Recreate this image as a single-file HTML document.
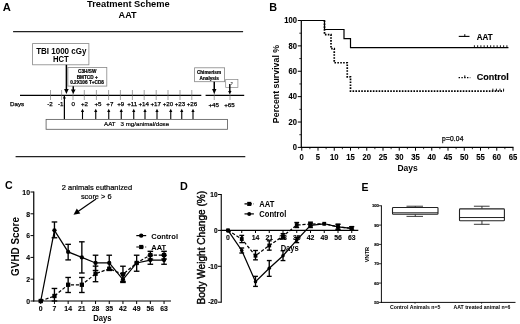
<!DOCTYPE html>
<html><head><meta charset="utf-8"><title>Figure</title>
<style>
html,body{margin:0;padding:0;background:#fff;}
svg{display:block;filter:blur(0.3px);font-family:'Liberation Sans', sans-serif;}
</style></head><body>
<svg width="520" height="324" viewBox="0 0 520 324" font-family="'Liberation Sans', sans-serif">
<rect x="0" y="0" width="520" height="324" fill="#fff"/>
<text x="2.70" y="11.20" font-size="11.2" font-weight="bold" text-anchor="start" fill="#000" >A</text>
<text x="128.40" y="7.30" font-size="9.3" font-weight="bold" text-anchor="middle" fill="#000" >Treatment Scheme</text>
<text x="127.60" y="18.30" font-size="9.1" font-weight="bold" text-anchor="middle" fill="#000" >AAT</text>
<line x1="13.10" y1="31.60" x2="243.10" y2="31.60" stroke="#222" stroke-width="1.25" />
<line x1="15.60" y1="156.60" x2="245.30" y2="156.60" stroke="#222" stroke-width="1.4" />
<rect x="32.60" y="43.60" width="56.30" height="21.20" fill="none" stroke="#858585" stroke-width="0.8"/>
<text x="61.30" y="53.60" font-size="9.1" font-weight="bold" text-anchor="middle" fill="#000" textLength="50.2" lengthAdjust="spacingAndGlyphs">TBI 1000 cGy</text>
<text x="60.80" y="62.40" font-size="8.8" font-weight="bold" text-anchor="middle" fill="#000" textLength="15.8" lengthAdjust="spacingAndGlyphs">HCT</text>
<rect x="67.90" y="67.50" width="38.90" height="18.60" fill="#fff" stroke="#888" stroke-width="0.8"/>
<text x="87.20" y="73.40" font-size="4.7" font-weight="bold" text-anchor="middle" fill="#000"  stroke="#000" stroke-width="0.2">C3H/SW</text>
<text x="87.20" y="78.80" font-size="4.7" font-weight="bold" text-anchor="middle" fill="#000"  stroke="#000" stroke-width="0.2">BMTCD +</text>
<text x="87.00" y="84.20" font-size="4.7" font-weight="bold" text-anchor="middle" fill="#000"  stroke="#000" stroke-width="0.2">0.2X106 T+CD8</text>
<line x1="20.00" y1="95.30" x2="201.30" y2="95.30" stroke="#000" stroke-width="1.35" />
<line x1="205.60" y1="95.30" x2="244.20" y2="95.30" stroke="#000" stroke-width="1.35" />
<line x1="50.50" y1="90.00" x2="50.50" y2="100.00" stroke="#666" stroke-width="0.6" />
<text x="50.00" y="106.10" font-size="6.2" font-weight="normal" text-anchor="middle" fill="#000"  stroke="#000" stroke-width="0.25">-2</text>
<line x1="61.60" y1="90.00" x2="61.60" y2="100.00" stroke="#666" stroke-width="0.6" />
<text x="60.75" y="106.10" font-size="6.2" font-weight="normal" text-anchor="middle" fill="#000"  stroke="#000" stroke-width="0.25">-1</text>
<line x1="73.00" y1="90.00" x2="73.00" y2="100.00" stroke="#666" stroke-width="0.6" />
<text x="73.25" y="106.10" font-size="6.2" font-weight="normal" text-anchor="middle" fill="#000"  stroke="#000" stroke-width="0.25">0</text>
<line x1="84.30" y1="90.00" x2="84.30" y2="100.00" stroke="#666" stroke-width="0.6" />
<text x="84.50" y="106.10" font-size="6.2" font-weight="normal" text-anchor="middle" fill="#000"  stroke="#000" stroke-width="0.25">+2</text>
<line x1="96.40" y1="90.00" x2="96.40" y2="100.00" stroke="#666" stroke-width="0.6" />
<text x="98.00" y="106.10" font-size="6.2" font-weight="normal" text-anchor="middle" fill="#000"  stroke="#000" stroke-width="0.25">+5</text>
<line x1="108.60" y1="90.00" x2="108.60" y2="100.00" stroke="#666" stroke-width="0.6" />
<text x="109.80" y="106.10" font-size="6.2" font-weight="normal" text-anchor="middle" fill="#000"  stroke="#000" stroke-width="0.25">+7</text>
<line x1="120.40" y1="90.00" x2="120.40" y2="100.00" stroke="#666" stroke-width="0.6" />
<text x="120.75" y="106.10" font-size="6.2" font-weight="normal" text-anchor="middle" fill="#000"  stroke="#000" stroke-width="0.25">+9</text>
<line x1="132.40" y1="90.00" x2="132.40" y2="100.00" stroke="#666" stroke-width="0.6" />
<text x="132.20" y="106.10" font-size="6.2" font-weight="normal" text-anchor="middle" fill="#000"  stroke="#000" stroke-width="0.25">+11</text>
<line x1="144.20" y1="90.00" x2="144.20" y2="100.00" stroke="#666" stroke-width="0.6" />
<text x="143.75" y="106.10" font-size="6.2" font-weight="normal" text-anchor="middle" fill="#000"  stroke="#000" stroke-width="0.25">+14</text>
<line x1="156.20" y1="90.00" x2="156.20" y2="100.00" stroke="#666" stroke-width="0.6" />
<text x="155.75" y="106.10" font-size="6.2" font-weight="normal" text-anchor="middle" fill="#000"  stroke="#000" stroke-width="0.25">+17</text>
<line x1="168.00" y1="90.00" x2="168.00" y2="100.00" stroke="#666" stroke-width="0.6" />
<text x="168.00" y="106.10" font-size="6.2" font-weight="normal" text-anchor="middle" fill="#000"  stroke="#000" stroke-width="0.25">+20</text>
<line x1="180.00" y1="90.00" x2="180.00" y2="100.00" stroke="#666" stroke-width="0.6" />
<text x="180.00" y="106.10" font-size="6.2" font-weight="normal" text-anchor="middle" fill="#000"  stroke="#000" stroke-width="0.25">+23</text>
<line x1="191.80" y1="90.00" x2="191.80" y2="100.00" stroke="#666" stroke-width="0.6" />
<text x="192.00" y="106.10" font-size="6.2" font-weight="normal" text-anchor="middle" fill="#000"  stroke="#000" stroke-width="0.25">+26</text>
<line x1="214.25" y1="90.00" x2="214.25" y2="100.00" stroke="#666" stroke-width="0.6" />
<text x="213.75" y="107.10" font-size="6.2" font-weight="normal" text-anchor="middle" fill="#000"  stroke="#000" stroke-width="0.25">+45</text>
<line x1="230.00" y1="90.00" x2="230.00" y2="100.00" stroke="#666" stroke-width="0.6" />
<text x="229.50" y="107.10" font-size="6.2" font-weight="normal" text-anchor="middle" fill="#000"  stroke="#000" stroke-width="0.25">+65</text>
<text x="10.00" y="106.20" font-size="6.2" font-weight="normal" text-anchor="start" fill="#000"  stroke="#000" stroke-width="0.25">Days</text>
<line x1="66.40" y1="64.80" x2="66.40" y2="90.00" stroke="#000" stroke-width="1.5" />
<polygon points="64.10,89.00 68.70,89.00 66.40,94.00" fill="#000"/>
<line x1="73.25" y1="86.25" x2="73.25" y2="90.50" stroke="#000" stroke-width="1.5" />
<polygon points="70.95,89.50 75.55,89.50 73.25,94.00" fill="#000"/>
<line x1="64.40" y1="95.00" x2="64.40" y2="119.40" stroke="#000" stroke-width="1.25" />
<polygon points="64.40,95.60 62.90,98.60 65.90,98.60" fill="#000"/>
<line x1="82.50" y1="119.40" x2="82.50" y2="111.10" stroke="#000" stroke-width="1.1" />
<polygon points="80.90,112.10 84.10,112.10 82.50,108.70" fill="#000"/>
<line x1="95.75" y1="119.40" x2="95.75" y2="111.10" stroke="#000" stroke-width="1.1" />
<polygon points="94.15,112.10 97.35,112.10 95.75,108.70" fill="#000"/>
<line x1="108.75" y1="119.40" x2="108.75" y2="111.10" stroke="#000" stroke-width="1.1" />
<polygon points="107.15,112.10 110.35,112.10 108.75,108.70" fill="#000"/>
<line x1="121.25" y1="119.40" x2="121.25" y2="111.10" stroke="#000" stroke-width="1.1" />
<polygon points="119.65,112.10 122.85,112.10 121.25,108.70" fill="#000"/>
<line x1="133.75" y1="119.40" x2="133.75" y2="111.10" stroke="#000" stroke-width="1.1" />
<polygon points="132.15,112.10 135.35,112.10 133.75,108.70" fill="#000"/>
<line x1="145.00" y1="119.40" x2="145.00" y2="111.10" stroke="#000" stroke-width="1.1" />
<polygon points="143.40,112.10 146.60,112.10 145.00,108.70" fill="#000"/>
<line x1="157.00" y1="119.40" x2="157.00" y2="111.10" stroke="#000" stroke-width="1.1" />
<polygon points="155.40,112.10 158.60,112.10 157.00,108.70" fill="#000"/>
<line x1="170.75" y1="119.40" x2="170.75" y2="111.10" stroke="#000" stroke-width="1.1" />
<polygon points="169.15,112.10 172.35,112.10 170.75,108.70" fill="#000"/>
<line x1="181.75" y1="119.40" x2="181.75" y2="111.10" stroke="#000" stroke-width="1.1" />
<polygon points="180.15,112.10 183.35,112.10 181.75,108.70" fill="#000"/>
<line x1="193.00" y1="119.40" x2="193.00" y2="111.10" stroke="#000" stroke-width="1.1" />
<polygon points="191.40,112.10 194.60,112.10 193.00,108.70" fill="#000"/>
<rect x="46.10" y="119.40" width="181.40" height="9.90" fill="#fff" stroke="#606060" stroke-width="0.85"/>
<text x="136.60" y="126.40" font-size="6.15" font-weight="normal" text-anchor="middle" fill="#000" xml:space="preserve" stroke="#000" stroke-width="0.2">AAT   3 mg/animal/dose</text>
<rect x="194.60" y="67.80" width="30.00" height="13.90" fill="#fff" stroke="#858585" stroke-width="0.8"/>
<text x="209.00" y="74.20" font-size="4.7" font-weight="bold" text-anchor="middle" fill="#000"  stroke="#000" stroke-width="0.2">Chimerism</text>
<text x="209.20" y="79.70" font-size="4.7" font-weight="bold" text-anchor="middle" fill="#000"  stroke="#000" stroke-width="0.2">Analysis</text>
<line x1="214.25" y1="81.70" x2="214.25" y2="90.00" stroke="#000" stroke-width="1.5" />
<polygon points="212.05,89.00 216.45,89.00 214.25,94.00" fill="#000"/>
<rect x="225.70" y="79.50" width="12.20" height="8.10" fill="#fff" stroke="#858585" stroke-width="0.7"/>
<text x="231.70" y="85.00" font-size="3.8" font-weight="bold" text-anchor="middle" fill="#000" >?</text>
<line x1="229.80" y1="84.00" x2="229.80" y2="91.90" stroke="#000" stroke-width="1.4" />
<polygon points="228.10,90.90 231.50,90.90 229.80,94.30" fill="#000"/>
<text x="269.30" y="10.70" font-size="10.8" font-weight="bold" text-anchor="start" fill="#000" >B</text>
<line x1="301.30" y1="20.00" x2="301.30" y2="147.90" stroke="#000" stroke-width="1.2" />
<line x1="300.80" y1="147.40" x2="513.50" y2="147.40" stroke="#000" stroke-width="1.2" />
<line x1="297.80" y1="147.40" x2="301.30" y2="147.40" stroke="#000" stroke-width="1" />
<text x="0" y="0" font-size="8.26" font-weight="bold" text-anchor="end" fill="#000" transform="translate(297.00 150.10) scale(0.92 1)"  stroke="#000" stroke-width="0.1">0</text>
<line x1="299.30" y1="134.71" x2="301.30" y2="134.71" stroke="#000" stroke-width="0.8" />
<line x1="297.80" y1="122.02" x2="301.30" y2="122.02" stroke="#000" stroke-width="1" />
<text x="0" y="0" font-size="8.26" font-weight="bold" text-anchor="end" fill="#000" transform="translate(297.00 124.72) scale(0.92 1)"  stroke="#000" stroke-width="0.1">20</text>
<line x1="299.30" y1="109.33" x2="301.30" y2="109.33" stroke="#000" stroke-width="0.8" />
<line x1="297.80" y1="96.64" x2="301.30" y2="96.64" stroke="#000" stroke-width="1" />
<text x="0" y="0" font-size="8.26" font-weight="bold" text-anchor="end" fill="#000" transform="translate(297.00 99.34) scale(0.92 1)"  stroke="#000" stroke-width="0.1">40</text>
<line x1="299.30" y1="83.95" x2="301.30" y2="83.95" stroke="#000" stroke-width="0.8" />
<line x1="297.80" y1="71.26" x2="301.30" y2="71.26" stroke="#000" stroke-width="1" />
<text x="0" y="0" font-size="8.26" font-weight="bold" text-anchor="end" fill="#000" transform="translate(297.00 73.96) scale(0.92 1)"  stroke="#000" stroke-width="0.1">60</text>
<line x1="299.30" y1="58.57" x2="301.30" y2="58.57" stroke="#000" stroke-width="0.8" />
<line x1="297.80" y1="45.88" x2="301.30" y2="45.88" stroke="#000" stroke-width="1" />
<text x="0" y="0" font-size="8.26" font-weight="bold" text-anchor="end" fill="#000" transform="translate(297.00 48.58) scale(0.92 1)"  stroke="#000" stroke-width="0.1">80</text>
<line x1="299.30" y1="33.19" x2="301.30" y2="33.19" stroke="#000" stroke-width="0.8" />
<line x1="297.80" y1="20.50" x2="301.30" y2="20.50" stroke="#000" stroke-width="1" />
<text x="0" y="0" font-size="8.26" font-weight="bold" text-anchor="end" fill="#000" transform="translate(297.00 23.20) scale(0.92 1)"  stroke="#000" stroke-width="0.1">100</text>
<line x1="301.75" y1="147.40" x2="301.75" y2="150.70" stroke="#000" stroke-width="1" />
<text x="0" y="0" font-size="8.37" font-weight="bold" text-anchor="middle" fill="#000" transform="translate(301.75 159.50) scale(0.92 1)"  stroke="#000" stroke-width="0.1">0</text>
<line x1="318.00" y1="147.40" x2="318.00" y2="150.70" stroke="#000" stroke-width="1" />
<text x="0" y="0" font-size="8.37" font-weight="bold" text-anchor="middle" fill="#000" transform="translate(318.00 159.50) scale(0.92 1)"  stroke="#000" stroke-width="0.1">5</text>
<line x1="334.25" y1="147.40" x2="334.25" y2="150.70" stroke="#000" stroke-width="1" />
<text x="0" y="0" font-size="8.37" font-weight="bold" text-anchor="middle" fill="#000" transform="translate(334.25 159.50) scale(0.92 1)"  stroke="#000" stroke-width="0.1">10</text>
<line x1="350.50" y1="147.40" x2="350.50" y2="150.70" stroke="#000" stroke-width="1" />
<text x="0" y="0" font-size="8.37" font-weight="bold" text-anchor="middle" fill="#000" transform="translate(350.50 159.50) scale(0.92 1)"  stroke="#000" stroke-width="0.1">15</text>
<line x1="366.75" y1="147.40" x2="366.75" y2="150.70" stroke="#000" stroke-width="1" />
<text x="0" y="0" font-size="8.37" font-weight="bold" text-anchor="middle" fill="#000" transform="translate(366.75 159.50) scale(0.92 1)"  stroke="#000" stroke-width="0.1">20</text>
<line x1="383.00" y1="147.40" x2="383.00" y2="150.70" stroke="#000" stroke-width="1" />
<text x="0" y="0" font-size="8.37" font-weight="bold" text-anchor="middle" fill="#000" transform="translate(383.00 159.50) scale(0.92 1)"  stroke="#000" stroke-width="0.1">25</text>
<line x1="399.25" y1="147.40" x2="399.25" y2="150.70" stroke="#000" stroke-width="1" />
<text x="0" y="0" font-size="8.37" font-weight="bold" text-anchor="middle" fill="#000" transform="translate(399.25 159.50) scale(0.92 1)"  stroke="#000" stroke-width="0.1">30</text>
<line x1="415.50" y1="147.40" x2="415.50" y2="150.70" stroke="#000" stroke-width="1" />
<text x="0" y="0" font-size="8.37" font-weight="bold" text-anchor="middle" fill="#000" transform="translate(415.50 159.50) scale(0.92 1)"  stroke="#000" stroke-width="0.1">35</text>
<line x1="431.75" y1="147.40" x2="431.75" y2="150.70" stroke="#000" stroke-width="1" />
<text x="0" y="0" font-size="8.37" font-weight="bold" text-anchor="middle" fill="#000" transform="translate(431.75 159.50) scale(0.92 1)"  stroke="#000" stroke-width="0.1">40</text>
<line x1="448.00" y1="147.40" x2="448.00" y2="150.70" stroke="#000" stroke-width="1" />
<text x="0" y="0" font-size="8.37" font-weight="bold" text-anchor="middle" fill="#000" transform="translate(448.00 159.50) scale(0.92 1)"  stroke="#000" stroke-width="0.1">45</text>
<line x1="464.25" y1="147.40" x2="464.25" y2="150.70" stroke="#000" stroke-width="1" />
<text x="0" y="0" font-size="8.37" font-weight="bold" text-anchor="middle" fill="#000" transform="translate(464.25 159.50) scale(0.92 1)"  stroke="#000" stroke-width="0.1">50</text>
<line x1="480.50" y1="147.40" x2="480.50" y2="150.70" stroke="#000" stroke-width="1" />
<text x="0" y="0" font-size="8.37" font-weight="bold" text-anchor="middle" fill="#000" transform="translate(480.50 159.50) scale(0.92 1)"  stroke="#000" stroke-width="0.1">55</text>
<line x1="496.75" y1="147.40" x2="496.75" y2="150.70" stroke="#000" stroke-width="1" />
<text x="0" y="0" font-size="8.37" font-weight="bold" text-anchor="middle" fill="#000" transform="translate(496.75 159.50) scale(0.92 1)"  stroke="#000" stroke-width="0.1">60</text>
<line x1="513.00" y1="147.40" x2="513.00" y2="150.70" stroke="#000" stroke-width="1" />
<text x="0" y="0" font-size="8.37" font-weight="bold" text-anchor="middle" fill="#000" transform="translate(513.00 159.50) scale(0.92 1)"  stroke="#000" stroke-width="0.1">65</text>
<line x1="309.88" y1="147.40" x2="309.88" y2="149.20" stroke="#000" stroke-width="0.8" />
<line x1="326.12" y1="147.40" x2="326.12" y2="149.20" stroke="#000" stroke-width="0.8" />
<line x1="342.38" y1="147.40" x2="342.38" y2="149.20" stroke="#000" stroke-width="0.8" />
<line x1="358.62" y1="147.40" x2="358.62" y2="149.20" stroke="#000" stroke-width="0.8" />
<line x1="374.88" y1="147.40" x2="374.88" y2="149.20" stroke="#000" stroke-width="0.8" />
<line x1="391.12" y1="147.40" x2="391.12" y2="149.20" stroke="#000" stroke-width="0.8" />
<line x1="407.38" y1="147.40" x2="407.38" y2="149.20" stroke="#000" stroke-width="0.8" />
<line x1="423.62" y1="147.40" x2="423.62" y2="149.20" stroke="#000" stroke-width="0.8" />
<line x1="439.88" y1="147.40" x2="439.88" y2="149.20" stroke="#000" stroke-width="0.8" />
<line x1="456.12" y1="147.40" x2="456.12" y2="149.20" stroke="#000" stroke-width="0.8" />
<line x1="472.38" y1="147.40" x2="472.38" y2="149.20" stroke="#000" stroke-width="0.8" />
<line x1="488.62" y1="147.40" x2="488.62" y2="149.20" stroke="#000" stroke-width="0.8" />
<line x1="504.88" y1="147.40" x2="504.88" y2="149.20" stroke="#000" stroke-width="0.8" />
<text x="0" y="0" font-size="9.34" font-weight="bold" text-anchor="middle" fill="#000" transform="translate(407.60 171.20) scale(0.91 1)" >Days</text>
<text x="279.30" y="84.00" font-size="8.8" font-weight="bold" text-anchor="middle" fill="#000" transform="rotate(-90 279.30 84.00)" >Percent survival %</text>
<polyline fill="none" stroke="#000" stroke-width="1.2" points="301.75,20.50 324.50,20.50 324.50,29.51 344.00,29.51 344.00,38.65 350.50,38.65 350.50,47.66 508.45,47.66"/>
<line x1="474.40" y1="47.66" x2="474.40" y2="45.26" stroke="#000" stroke-width="0.9" />
<line x1="477.65" y1="47.66" x2="477.65" y2="45.26" stroke="#000" stroke-width="0.9" />
<line x1="480.90" y1="47.66" x2="480.90" y2="45.26" stroke="#000" stroke-width="0.9" />
<line x1="484.15" y1="47.66" x2="484.15" y2="45.26" stroke="#000" stroke-width="0.9" />
<line x1="487.40" y1="47.66" x2="487.40" y2="45.26" stroke="#000" stroke-width="0.9" />
<line x1="490.65" y1="47.66" x2="490.65" y2="45.26" stroke="#000" stroke-width="0.9" />
<line x1="493.90" y1="47.66" x2="493.90" y2="45.26" stroke="#000" stroke-width="0.9" />
<line x1="497.15" y1="47.66" x2="497.15" y2="45.26" stroke="#000" stroke-width="0.9" />
<line x1="500.40" y1="47.66" x2="500.40" y2="45.26" stroke="#000" stroke-width="0.9" />
<line x1="503.65" y1="47.66" x2="503.65" y2="45.26" stroke="#000" stroke-width="0.9" />
<line x1="506.90" y1="47.66" x2="506.90" y2="45.26" stroke="#000" stroke-width="0.9" />
<polyline fill="none" stroke="#000" stroke-width="1.7" stroke-dasharray="1.6 1.3" points="324.50,20.50 324.50,34.59 331.00,34.59 331.00,48.67 334.25,48.67 334.25,62.76 347.25,62.76 347.25,76.84 350.50,76.84 350.50,91.06 503.90,91.06"/>
<line x1="492.85" y1="91.06" x2="492.85" y2="88.66" stroke="#000" stroke-width="0.9" />
<line x1="496.42" y1="91.06" x2="496.42" y2="88.66" stroke="#000" stroke-width="0.9" />
<line x1="500.00" y1="91.06" x2="500.00" y2="88.66" stroke="#000" stroke-width="0.9" />
<line x1="503.58" y1="91.06" x2="503.58" y2="88.66" stroke="#000" stroke-width="0.9" />
<line x1="458.75" y1="36.40" x2="469.50" y2="36.40" stroke="#000" stroke-width="1.1" />
<line x1="464.80" y1="36.40" x2="464.80" y2="34.20" stroke="#000" stroke-width="1" />
<text x="476.75" y="39.90" font-size="9.2" font-weight="bold" text-anchor="start" fill="#000" textLength="15.9" lengthAdjust="spacingAndGlyphs" stroke="#000" stroke-width="0.15">AAT</text>
<line x1="458.60" y1="77.70" x2="470.30" y2="77.70" stroke="#000" stroke-width="1.2" stroke-dasharray="1.4 1.4"/>
<line x1="464.80" y1="77.70" x2="464.80" y2="75.40" stroke="#000" stroke-width="1" />
<text x="476.75" y="80.20" font-size="9.3" font-weight="bold" text-anchor="start" fill="#000" textLength="32" lengthAdjust="spacingAndGlyphs" stroke="#000" stroke-width="0.15">Control</text>
<text x="452.80" y="141.20" font-size="6.7" font-weight="normal" text-anchor="middle" fill="#000" letter-spacing="0.15" stroke="#000" stroke-width="0.25">p=0.04</text>
<text x="4.90" y="189.20" font-size="10.6" font-weight="bold" text-anchor="start" fill="#000" >C</text>
<line x1="33.75" y1="191.50" x2="33.75" y2="301.50" stroke="#000" stroke-width="1.2" />
<line x1="33.25" y1="301.00" x2="171.00" y2="301.00" stroke="#000" stroke-width="1.2" />
<line x1="30.50" y1="301.00" x2="33.75" y2="301.00" stroke="#000" stroke-width="1" />
<text x="0" y="0" font-size="7.5" font-weight="bold" text-anchor="end" fill="#000" transform="translate(30.00 303.70) scale(0.92 1)"  stroke="#000" stroke-width="0.1">0</text>
<line x1="30.50" y1="279.20" x2="33.75" y2="279.20" stroke="#000" stroke-width="1" />
<text x="0" y="0" font-size="7.5" font-weight="bold" text-anchor="end" fill="#000" transform="translate(30.00 281.90) scale(0.92 1)"  stroke="#000" stroke-width="0.1">2</text>
<line x1="30.50" y1="257.40" x2="33.75" y2="257.40" stroke="#000" stroke-width="1" />
<text x="0" y="0" font-size="7.5" font-weight="bold" text-anchor="end" fill="#000" transform="translate(30.00 260.10) scale(0.92 1)"  stroke="#000" stroke-width="0.1">4</text>
<line x1="30.50" y1="235.60" x2="33.75" y2="235.60" stroke="#000" stroke-width="1" />
<text x="0" y="0" font-size="7.5" font-weight="bold" text-anchor="end" fill="#000" transform="translate(30.00 238.30) scale(0.92 1)"  stroke="#000" stroke-width="0.1">6</text>
<line x1="30.50" y1="213.80" x2="33.75" y2="213.80" stroke="#000" stroke-width="1" />
<text x="0" y="0" font-size="7.5" font-weight="bold" text-anchor="end" fill="#000" transform="translate(30.00 216.50) scale(0.92 1)"  stroke="#000" stroke-width="0.1">8</text>
<line x1="30.50" y1="192.00" x2="33.75" y2="192.00" stroke="#000" stroke-width="1" />
<text x="0" y="0" font-size="7.5" font-weight="bold" text-anchor="end" fill="#000" transform="translate(30.00 194.70) scale(0.92 1)"  stroke="#000" stroke-width="0.1">10</text>
<line x1="40.75" y1="301.00" x2="40.75" y2="304.00" stroke="#000" stroke-width="1" />
<text x="0" y="0" font-size="7.5" font-weight="bold" text-anchor="middle" fill="#000" transform="translate(40.75 311.00) scale(0.92 1)"  stroke="#000" stroke-width="0.1">0</text>
<line x1="54.45" y1="301.00" x2="54.45" y2="304.00" stroke="#000" stroke-width="1" />
<text x="0" y="0" font-size="7.5" font-weight="bold" text-anchor="middle" fill="#000" transform="translate(54.45 311.00) scale(0.92 1)"  stroke="#000" stroke-width="0.1">7</text>
<line x1="68.15" y1="301.00" x2="68.15" y2="304.00" stroke="#000" stroke-width="1" />
<text x="0" y="0" font-size="7.5" font-weight="bold" text-anchor="middle" fill="#000" transform="translate(68.15 311.00) scale(0.92 1)"  stroke="#000" stroke-width="0.1">14</text>
<line x1="81.85" y1="301.00" x2="81.85" y2="304.00" stroke="#000" stroke-width="1" />
<text x="0" y="0" font-size="7.5" font-weight="bold" text-anchor="middle" fill="#000" transform="translate(81.85 311.00) scale(0.92 1)"  stroke="#000" stroke-width="0.1">21</text>
<line x1="95.55" y1="301.00" x2="95.55" y2="304.00" stroke="#000" stroke-width="1" />
<text x="0" y="0" font-size="7.5" font-weight="bold" text-anchor="middle" fill="#000" transform="translate(95.55 311.00) scale(0.92 1)"  stroke="#000" stroke-width="0.1">28</text>
<line x1="109.25" y1="301.00" x2="109.25" y2="304.00" stroke="#000" stroke-width="1" />
<text x="0" y="0" font-size="7.5" font-weight="bold" text-anchor="middle" fill="#000" transform="translate(109.25 311.00) scale(0.92 1)"  stroke="#000" stroke-width="0.1">35</text>
<line x1="122.95" y1="301.00" x2="122.95" y2="304.00" stroke="#000" stroke-width="1" />
<text x="0" y="0" font-size="7.5" font-weight="bold" text-anchor="middle" fill="#000" transform="translate(122.95 311.00) scale(0.92 1)"  stroke="#000" stroke-width="0.1">42</text>
<line x1="136.65" y1="301.00" x2="136.65" y2="304.00" stroke="#000" stroke-width="1" />
<text x="0" y="0" font-size="7.5" font-weight="bold" text-anchor="middle" fill="#000" transform="translate(136.65 311.00) scale(0.92 1)"  stroke="#000" stroke-width="0.1">49</text>
<line x1="150.35" y1="301.00" x2="150.35" y2="304.00" stroke="#000" stroke-width="1" />
<text x="0" y="0" font-size="7.5" font-weight="bold" text-anchor="middle" fill="#000" transform="translate(150.35 311.00) scale(0.92 1)"  stroke="#000" stroke-width="0.1">56</text>
<line x1="164.05" y1="301.00" x2="164.05" y2="304.00" stroke="#000" stroke-width="1" />
<text x="0" y="0" font-size="7.5" font-weight="bold" text-anchor="middle" fill="#000" transform="translate(164.05 311.00) scale(0.92 1)"  stroke="#000" stroke-width="0.1">63</text>
<text x="0" y="0" font-size="8.26" font-weight="bold" text-anchor="middle" fill="#000" transform="translate(102.30 321.00) scale(0.92 1)" >Days</text>
<text x="18.90" y="246.50" font-size="10.3" font-weight="bold" text-anchor="middle" fill="#000" transform="rotate(-90 18.90 246.50)" textLength="58.8" lengthAdjust="spacingAndGlyphs">GVHD Score</text>
<text x="97.00" y="190.40" font-size="7.45" font-weight="normal" text-anchor="middle" fill="#000"  stroke="#000" stroke-width="0.2">2 animals euthanized</text>
<text x="96.20" y="198.80" font-size="7.4" font-weight="normal" text-anchor="middle" fill="#000"  stroke="#000" stroke-width="0.2">score &gt; 6</text>
<line x1="96.00" y1="198.90" x2="76.50" y2="212.50" stroke="#000" stroke-width="1.2" />
<polygon points="73.50,214.70 80.30,213.40 76.80,208.40" fill="#000"/>
<polyline fill="none" stroke="#000" stroke-width="1.25" points="40.75,301.00 54.45,230.37 68.15,251.95 81.85,257.40 95.55,262.96 109.25,262.96 122.95,279.53 136.65,262.96 150.35,260.02 164.05,260.02"/>
<circle cx="40.75" cy="301.00" r="2.15" fill="#000"/>
<line x1="54.45" y1="237.78" x2="54.45" y2="221.97" stroke="#000" stroke-width="1.35" />
<line x1="51.65" y1="237.78" x2="57.25" y2="237.78" stroke="#000" stroke-width="1.35" />
<line x1="51.65" y1="221.97" x2="57.25" y2="221.97" stroke="#000" stroke-width="1.35" />
<circle cx="54.45" cy="230.37" r="2.15" fill="#000"/>
<line x1="68.15" y1="259.91" x2="68.15" y2="244.32" stroke="#000" stroke-width="1.35" />
<line x1="65.35" y1="259.91" x2="70.95" y2="259.91" stroke="#000" stroke-width="1.35" />
<line x1="65.35" y1="244.32" x2="70.95" y2="244.32" stroke="#000" stroke-width="1.35" />
<circle cx="68.15" cy="251.95" r="2.15" fill="#000"/>
<line x1="81.85" y1="272.99" x2="81.85" y2="241.81" stroke="#000" stroke-width="1.35" />
<line x1="79.05" y1="272.99" x2="84.65" y2="272.99" stroke="#000" stroke-width="1.35" />
<line x1="79.05" y1="241.81" x2="84.65" y2="241.81" stroke="#000" stroke-width="1.35" />
<circle cx="81.85" cy="257.40" r="2.15" fill="#000"/>
<line x1="95.55" y1="270.48" x2="95.55" y2="255.22" stroke="#000" stroke-width="1.35" />
<line x1="92.75" y1="270.48" x2="98.35" y2="270.48" stroke="#000" stroke-width="1.35" />
<line x1="92.75" y1="255.22" x2="98.35" y2="255.22" stroke="#000" stroke-width="1.35" />
<circle cx="95.55" cy="262.96" r="2.15" fill="#000"/>
<line x1="109.25" y1="270.48" x2="109.25" y2="255.22" stroke="#000" stroke-width="1.35" />
<line x1="106.45" y1="270.48" x2="112.05" y2="270.48" stroke="#000" stroke-width="1.35" />
<line x1="106.45" y1="255.22" x2="112.05" y2="255.22" stroke="#000" stroke-width="1.35" />
<circle cx="109.25" cy="262.96" r="2.15" fill="#000"/>
<line x1="122.95" y1="282.47" x2="122.95" y2="273.75" stroke="#000" stroke-width="1.35" />
<line x1="120.15" y1="282.47" x2="125.75" y2="282.47" stroke="#000" stroke-width="1.35" />
<line x1="120.15" y1="273.75" x2="125.75" y2="273.75" stroke="#000" stroke-width="1.35" />
<circle cx="122.95" cy="279.53" r="2.15" fill="#000"/>
<line x1="136.65" y1="271.24" x2="136.65" y2="255.22" stroke="#000" stroke-width="1.35" />
<line x1="133.85" y1="271.24" x2="139.45" y2="271.24" stroke="#000" stroke-width="1.35" />
<line x1="133.85" y1="255.22" x2="139.45" y2="255.22" stroke="#000" stroke-width="1.35" />
<circle cx="136.65" cy="262.96" r="2.15" fill="#000"/>
<line x1="150.35" y1="264.27" x2="150.35" y2="255.22" stroke="#000" stroke-width="1.35" />
<line x1="147.55" y1="264.27" x2="153.15" y2="264.27" stroke="#000" stroke-width="1.35" />
<line x1="147.55" y1="255.22" x2="153.15" y2="255.22" stroke="#000" stroke-width="1.35" />
<circle cx="150.35" cy="260.02" r="2.15" fill="#000"/>
<line x1="164.05" y1="264.27" x2="164.05" y2="255.22" stroke="#000" stroke-width="1.35" />
<line x1="161.25" y1="264.27" x2="166.85" y2="264.27" stroke="#000" stroke-width="1.35" />
<line x1="161.25" y1="255.22" x2="166.85" y2="255.22" stroke="#000" stroke-width="1.35" />
<circle cx="164.05" cy="260.02" r="2.15" fill="#000"/>
<polyline fill="none" stroke="#000" stroke-width="1.25" points="40.75,301.00 54.45,295.99 68.15,284.76 81.85,284.76 95.55,273.75 109.25,268.74 122.95,274.30 136.65,262.96 150.35,255.00 164.05,255.00" stroke-dasharray="3.2 1.8"/>
<rect x="38.60" y="298.85" width="4.3" height="4.3" fill="#000"/>
<line x1="54.45" y1="301.00" x2="54.45" y2="288.46" stroke="#000" stroke-width="1.35" />
<line x1="51.65" y1="301.00" x2="57.25" y2="301.00" stroke="#000" stroke-width="1.35" />
<line x1="51.65" y1="288.46" x2="57.25" y2="288.46" stroke="#000" stroke-width="1.35" />
<rect x="52.30" y="293.84" width="4.3" height="4.3" fill="#000"/>
<line x1="68.15" y1="292.50" x2="68.15" y2="277.46" stroke="#000" stroke-width="1.35" />
<line x1="65.35" y1="292.50" x2="70.95" y2="292.50" stroke="#000" stroke-width="1.35" />
<line x1="65.35" y1="277.46" x2="70.95" y2="277.46" stroke="#000" stroke-width="1.35" />
<rect x="66.00" y="282.61" width="4.3" height="4.3" fill="#000"/>
<line x1="81.85" y1="292.50" x2="81.85" y2="277.46" stroke="#000" stroke-width="1.35" />
<line x1="79.05" y1="292.50" x2="84.65" y2="292.50" stroke="#000" stroke-width="1.35" />
<line x1="79.05" y1="277.46" x2="84.65" y2="277.46" stroke="#000" stroke-width="1.35" />
<rect x="79.70" y="282.61" width="4.3" height="4.3" fill="#000"/>
<line x1="95.55" y1="281.71" x2="95.55" y2="266.12" stroke="#000" stroke-width="1.35" />
<line x1="92.75" y1="281.71" x2="98.35" y2="281.71" stroke="#000" stroke-width="1.35" />
<line x1="92.75" y1="266.12" x2="98.35" y2="266.12" stroke="#000" stroke-width="1.35" />
<rect x="93.40" y="271.60" width="4.3" height="4.3" fill="#000"/>
<rect x="107.10" y="266.59" width="4.3" height="4.3" fill="#000"/>
<line x1="122.95" y1="281.38" x2="122.95" y2="266.23" stroke="#000" stroke-width="1.35" />
<line x1="120.15" y1="281.38" x2="125.75" y2="281.38" stroke="#000" stroke-width="1.35" />
<line x1="120.15" y1="266.23" x2="125.75" y2="266.23" stroke="#000" stroke-width="1.35" />
<rect x="120.80" y="272.15" width="4.3" height="4.3" fill="#000"/>
<rect x="134.50" y="260.81" width="4.3" height="4.3" fill="#000"/>
<line x1="150.35" y1="259.03" x2="150.35" y2="251.30" stroke="#000" stroke-width="1.35" />
<line x1="147.55" y1="259.03" x2="153.15" y2="259.03" stroke="#000" stroke-width="1.35" />
<line x1="147.55" y1="251.30" x2="153.15" y2="251.30" stroke="#000" stroke-width="1.35" />
<rect x="148.20" y="252.85" width="4.3" height="4.3" fill="#000"/>
<line x1="164.05" y1="259.03" x2="164.05" y2="251.30" stroke="#000" stroke-width="1.35" />
<line x1="161.25" y1="259.03" x2="166.85" y2="259.03" stroke="#000" stroke-width="1.35" />
<line x1="161.25" y1="251.30" x2="166.85" y2="251.30" stroke="#000" stroke-width="1.35" />
<rect x="161.90" y="252.85" width="4.3" height="4.3" fill="#000"/>
<line x1="136.30" y1="235.60" x2="146.20" y2="235.60" stroke="#000" stroke-width="1.2" />
<circle cx="141.2" cy="235.6" r="2.2" fill="#000"/>
<text x="0" y="0" font-size="8.12" font-weight="bold" text-anchor="start" fill="#000" transform="translate(151.20 238.50) scale(0.93 1)" >Control</text>
<line x1="136.30" y1="247.00" x2="146.20" y2="247.00" stroke="#000" stroke-width="1.2" stroke-dasharray="3 1.5"/>
<rect x="139.1" y="244.9" width="4.2" height="4.2" fill="#000"/>
<text x="0" y="0" font-size="8.12" font-weight="bold" text-anchor="start" fill="#000" transform="translate(151.20 249.90) scale(0.93 1)" >AAT</text>
<text x="179.90" y="189.90" font-size="10.8" font-weight="bold" text-anchor="start" fill="#000" >D</text>
<line x1="221.25" y1="194.00" x2="221.25" y2="302.70" stroke="#000" stroke-width="1.1" />
<line x1="220.75" y1="230.40" x2="358.30" y2="230.40" stroke="#000" stroke-width="1.1" />
<line x1="218.00" y1="194.50" x2="221.25" y2="194.50" stroke="#000" stroke-width="1" />
<text x="217.60" y="196.70" font-size="6.5" font-weight="bold" text-anchor="end" fill="#000"  stroke="#000" stroke-width="0.15">10</text>
<line x1="218.00" y1="230.40" x2="221.25" y2="230.40" stroke="#000" stroke-width="1" />
<text x="217.60" y="232.60" font-size="6.5" font-weight="bold" text-anchor="end" fill="#000"  stroke="#000" stroke-width="0.15">0</text>
<line x1="218.00" y1="266.30" x2="221.25" y2="266.30" stroke="#000" stroke-width="1" />
<text x="217.60" y="268.50" font-size="6.5" font-weight="bold" text-anchor="end" fill="#000"  stroke="#000" stroke-width="0.15">-10</text>
<line x1="218.00" y1="302.20" x2="221.25" y2="302.20" stroke="#000" stroke-width="1" />
<text x="217.60" y="304.40" font-size="6.5" font-weight="bold" text-anchor="end" fill="#000"  stroke="#000" stroke-width="0.15">-20</text>
<line x1="228.00" y1="230.40" x2="228.00" y2="233.00" stroke="#000" stroke-width="1" />
<text x="0" y="0" font-size="7.42" font-weight="bold" text-anchor="middle" fill="#000" transform="translate(228.00 240.00) scale(0.93 1)"  stroke="#000" stroke-width="0.1">0</text>
<line x1="241.75" y1="230.40" x2="241.75" y2="233.00" stroke="#000" stroke-width="1" />
<text x="0" y="0" font-size="7.42" font-weight="bold" text-anchor="middle" fill="#000" transform="translate(241.75 240.00) scale(0.93 1)"  stroke="#000" stroke-width="0.1">7</text>
<line x1="255.50" y1="230.40" x2="255.50" y2="233.00" stroke="#000" stroke-width="1" />
<text x="0" y="0" font-size="7.42" font-weight="bold" text-anchor="middle" fill="#000" transform="translate(255.50 240.00) scale(0.93 1)"  stroke="#000" stroke-width="0.1">14</text>
<line x1="269.25" y1="230.40" x2="269.25" y2="233.00" stroke="#000" stroke-width="1" />
<text x="0" y="0" font-size="7.42" font-weight="bold" text-anchor="middle" fill="#000" transform="translate(269.25 240.00) scale(0.93 1)"  stroke="#000" stroke-width="0.1">21</text>
<line x1="283.00" y1="230.40" x2="283.00" y2="233.00" stroke="#000" stroke-width="1" />
<text x="0" y="0" font-size="7.42" font-weight="bold" text-anchor="middle" fill="#000" transform="translate(283.00 240.00) scale(0.93 1)"  stroke="#000" stroke-width="0.1">28</text>
<line x1="296.75" y1="230.40" x2="296.75" y2="233.00" stroke="#000" stroke-width="1" />
<text x="0" y="0" font-size="7.42" font-weight="bold" text-anchor="middle" fill="#000" transform="translate(296.75 240.00) scale(0.93 1)"  stroke="#000" stroke-width="0.1">35</text>
<line x1="310.50" y1="230.40" x2="310.50" y2="233.00" stroke="#000" stroke-width="1" />
<text x="0" y="0" font-size="7.42" font-weight="bold" text-anchor="middle" fill="#000" transform="translate(310.50 240.00) scale(0.93 1)"  stroke="#000" stroke-width="0.1">42</text>
<line x1="324.25" y1="230.40" x2="324.25" y2="233.00" stroke="#000" stroke-width="1" />
<text x="0" y="0" font-size="7.42" font-weight="bold" text-anchor="middle" fill="#000" transform="translate(324.25 240.00) scale(0.93 1)"  stroke="#000" stroke-width="0.1">49</text>
<line x1="338.00" y1="230.40" x2="338.00" y2="233.00" stroke="#000" stroke-width="1" />
<text x="0" y="0" font-size="7.42" font-weight="bold" text-anchor="middle" fill="#000" transform="translate(338.00 240.00) scale(0.93 1)"  stroke="#000" stroke-width="0.1">56</text>
<line x1="351.75" y1="230.40" x2="351.75" y2="233.00" stroke="#000" stroke-width="1" />
<text x="0" y="0" font-size="7.42" font-weight="bold" text-anchor="middle" fill="#000" transform="translate(351.75 240.00) scale(0.93 1)"  stroke="#000" stroke-width="0.1">63</text>
<text x="0" y="0" font-size="8.26" font-weight="bold" text-anchor="middle" fill="#000" transform="translate(289.70 250.60) scale(0.92 1)" >Days</text>
<text x="205.10" y="247.70" font-size="10.1" font-weight="normal" text-anchor="middle" fill="#000" transform="rotate(-90 205.10 247.70)"  stroke="#000" stroke-width="0.4">Body Weight Change (%)</text>
<polyline fill="none" stroke="#000" stroke-width="1.25" points="228.00,230.40 241.75,250.50 255.50,281.74 269.25,268.31 283.00,255.75 296.75,240.09 310.50,225.37 324.25,223.76 338.00,226.81 351.75,228.43"/>
<circle cx="228.00" cy="230.40" r="1.8" fill="#000"/>
<line x1="241.75" y1="253.02" x2="241.75" y2="247.99" stroke="#000" stroke-width="1.35" />
<line x1="239.35" y1="253.02" x2="244.15" y2="253.02" stroke="#000" stroke-width="1.35" />
<line x1="239.35" y1="247.99" x2="244.15" y2="247.99" stroke="#000" stroke-width="1.35" />
<circle cx="241.75" cy="250.50" r="1.8" fill="#000"/>
<line x1="255.50" y1="286.40" x2="255.50" y2="276.35" stroke="#000" stroke-width="1.35" />
<line x1="253.10" y1="286.40" x2="257.90" y2="286.40" stroke="#000" stroke-width="1.35" />
<line x1="253.10" y1="276.35" x2="257.90" y2="276.35" stroke="#000" stroke-width="1.35" />
<circle cx="255.50" cy="281.74" r="1.8" fill="#000"/>
<line x1="269.25" y1="276.35" x2="269.25" y2="260.56" stroke="#000" stroke-width="1.35" />
<line x1="266.85" y1="276.35" x2="271.65" y2="276.35" stroke="#000" stroke-width="1.35" />
<line x1="266.85" y1="260.56" x2="271.65" y2="260.56" stroke="#000" stroke-width="1.35" />
<circle cx="269.25" cy="268.31" r="1.8" fill="#000"/>
<line x1="283.00" y1="260.56" x2="283.00" y2="250.72" stroke="#000" stroke-width="1.35" />
<line x1="280.60" y1="260.56" x2="285.40" y2="260.56" stroke="#000" stroke-width="1.35" />
<line x1="280.60" y1="250.72" x2="285.40" y2="250.72" stroke="#000" stroke-width="1.35" />
<circle cx="283.00" cy="255.75" r="1.8" fill="#000"/>
<line x1="296.75" y1="242.61" x2="296.75" y2="237.58" stroke="#000" stroke-width="1.35" />
<line x1="294.35" y1="242.61" x2="299.15" y2="242.61" stroke="#000" stroke-width="1.35" />
<line x1="294.35" y1="237.58" x2="299.15" y2="237.58" stroke="#000" stroke-width="1.35" />
<circle cx="296.75" cy="240.09" r="1.8" fill="#000"/>
<line x1="310.50" y1="227.53" x2="310.50" y2="223.22" stroke="#000" stroke-width="1.35" />
<line x1="308.10" y1="227.53" x2="312.90" y2="227.53" stroke="#000" stroke-width="1.35" />
<line x1="308.10" y1="223.22" x2="312.90" y2="223.22" stroke="#000" stroke-width="1.35" />
<circle cx="310.50" cy="225.37" r="1.8" fill="#000"/>
<circle cx="324.25" cy="223.76" r="1.8" fill="#000"/>
<line x1="338.00" y1="229.32" x2="338.00" y2="224.30" stroke="#000" stroke-width="1.35" />
<line x1="335.60" y1="229.32" x2="340.40" y2="229.32" stroke="#000" stroke-width="1.35" />
<line x1="335.60" y1="224.30" x2="340.40" y2="224.30" stroke="#000" stroke-width="1.35" />
<circle cx="338.00" cy="226.81" r="1.8" fill="#000"/>
<line x1="351.75" y1="230.22" x2="351.75" y2="226.63" stroke="#000" stroke-width="1.35" />
<line x1="349.35" y1="230.22" x2="354.15" y2="230.22" stroke="#000" stroke-width="1.35" />
<line x1="349.35" y1="226.63" x2="354.15" y2="226.63" stroke="#000" stroke-width="1.35" />
<circle cx="351.75" cy="228.43" r="1.8" fill="#000"/>
<polyline fill="none" stroke="#000" stroke-width="1.25" points="228.00,230.40 241.75,239.02 255.50,255.75 269.25,245.48 283.00,236.14 296.75,225.02 310.50,224.12 324.25,223.76 338.00,226.81 351.75,228.43" stroke-dasharray="3.2 1.8"/>
<rect x="226.10" y="228.50" width="3.8" height="3.8" fill="#000"/>
<line x1="241.75" y1="242.61" x2="241.75" y2="235.43" stroke="#000" stroke-width="1.35" />
<line x1="239.35" y1="242.61" x2="244.15" y2="242.61" stroke="#000" stroke-width="1.35" />
<line x1="239.35" y1="235.43" x2="244.15" y2="235.43" stroke="#000" stroke-width="1.35" />
<rect x="239.85" y="237.12" width="3.8" height="3.8" fill="#000"/>
<line x1="255.50" y1="259.84" x2="255.50" y2="250.50" stroke="#000" stroke-width="1.35" />
<line x1="253.10" y1="259.84" x2="257.90" y2="259.84" stroke="#000" stroke-width="1.35" />
<line x1="253.10" y1="250.50" x2="257.90" y2="250.50" stroke="#000" stroke-width="1.35" />
<rect x="253.60" y="253.85" width="3.8" height="3.8" fill="#000"/>
<line x1="269.25" y1="250.15" x2="269.25" y2="240.81" stroke="#000" stroke-width="1.35" />
<line x1="266.85" y1="250.15" x2="271.65" y2="250.15" stroke="#000" stroke-width="1.35" />
<line x1="266.85" y1="240.81" x2="271.65" y2="240.81" stroke="#000" stroke-width="1.35" />
<rect x="267.35" y="243.58" width="3.8" height="3.8" fill="#000"/>
<line x1="283.00" y1="238.66" x2="283.00" y2="233.63" stroke="#000" stroke-width="1.35" />
<line x1="280.60" y1="238.66" x2="285.40" y2="238.66" stroke="#000" stroke-width="1.35" />
<line x1="280.60" y1="233.63" x2="285.40" y2="233.63" stroke="#000" stroke-width="1.35" />
<rect x="281.10" y="234.24" width="3.8" height="3.8" fill="#000"/>
<line x1="296.75" y1="227.53" x2="296.75" y2="222.50" stroke="#000" stroke-width="1.35" />
<line x1="294.35" y1="227.53" x2="299.15" y2="227.53" stroke="#000" stroke-width="1.35" />
<line x1="294.35" y1="222.50" x2="299.15" y2="222.50" stroke="#000" stroke-width="1.35" />
<rect x="294.85" y="223.12" width="3.8" height="3.8" fill="#000"/>
<line x1="310.50" y1="226.09" x2="310.50" y2="222.14" stroke="#000" stroke-width="1.35" />
<line x1="308.10" y1="226.09" x2="312.90" y2="226.09" stroke="#000" stroke-width="1.35" />
<line x1="308.10" y1="222.14" x2="312.90" y2="222.14" stroke="#000" stroke-width="1.35" />
<rect x="308.60" y="222.22" width="3.8" height="3.8" fill="#000"/>
<rect x="322.35" y="221.86" width="3.8" height="3.8" fill="#000"/>
<line x1="338.00" y1="229.32" x2="338.00" y2="224.30" stroke="#000" stroke-width="1.35" />
<line x1="335.60" y1="229.32" x2="340.40" y2="229.32" stroke="#000" stroke-width="1.35" />
<line x1="335.60" y1="224.30" x2="340.40" y2="224.30" stroke="#000" stroke-width="1.35" />
<rect x="336.10" y="224.91" width="3.8" height="3.8" fill="#000"/>
<line x1="351.75" y1="230.22" x2="351.75" y2="226.63" stroke="#000" stroke-width="1.35" />
<line x1="349.35" y1="230.22" x2="354.15" y2="230.22" stroke="#000" stroke-width="1.35" />
<line x1="349.35" y1="226.63" x2="354.15" y2="226.63" stroke="#000" stroke-width="1.35" />
<rect x="349.85" y="226.53" width="3.8" height="3.8" fill="#000"/>
<line x1="244.50" y1="203.90" x2="253.90" y2="203.90" stroke="#000" stroke-width="1.2" stroke-dasharray="3 1.5"/>
<rect x="247.2" y="201.85" width="4.1" height="4.1" fill="#000"/>
<text x="0" y="0" font-size="8.17" font-weight="bold" text-anchor="start" fill="#000" transform="translate(259.30 206.70) scale(0.93 1)" >AAT</text>
<line x1="244.50" y1="213.90" x2="253.90" y2="213.90" stroke="#000" stroke-width="1.2" />
<circle cx="249.2" cy="213.9" r="2.0" fill="#000"/>
<text x="0" y="0" font-size="8.17" font-weight="bold" text-anchor="start" fill="#000" transform="translate(259.30 216.80) scale(0.93 1)" >Control</text>
<text x="361.50" y="190.60" font-size="10.5" font-weight="bold" text-anchor="start" fill="#000" >E</text>
<line x1="381.40" y1="205.35" x2="381.40" y2="302.80" stroke="#000" stroke-width="0.95" />
<line x1="380.90" y1="302.40" x2="515.50" y2="302.40" stroke="#000" stroke-width="0.95" />
<line x1="379.00" y1="302.40" x2="381.40" y2="302.40" stroke="#000" stroke-width="0.8" />
<text x="378.90" y="303.90" font-size="4.2" font-weight="bold" text-anchor="end" fill="#000"  stroke="#000" stroke-width="0.15">50</text>
<line x1="379.00" y1="283.07" x2="381.40" y2="283.07" stroke="#000" stroke-width="0.8" />
<text x="378.90" y="284.57" font-size="4.2" font-weight="bold" text-anchor="end" fill="#000"  stroke="#000" stroke-width="0.15">60</text>
<line x1="379.00" y1="263.74" x2="381.40" y2="263.74" stroke="#000" stroke-width="0.8" />
<text x="378.90" y="265.24" font-size="4.2" font-weight="bold" text-anchor="end" fill="#000"  stroke="#000" stroke-width="0.15">70</text>
<line x1="379.00" y1="244.41" x2="381.40" y2="244.41" stroke="#000" stroke-width="0.8" />
<text x="378.90" y="245.91" font-size="4.2" font-weight="bold" text-anchor="end" fill="#000"  stroke="#000" stroke-width="0.15">80</text>
<line x1="379.00" y1="225.08" x2="381.40" y2="225.08" stroke="#000" stroke-width="0.8" />
<text x="378.90" y="226.58" font-size="4.2" font-weight="bold" text-anchor="end" fill="#000"  stroke="#000" stroke-width="0.15">90</text>
<line x1="379.00" y1="205.75" x2="381.40" y2="205.75" stroke="#000" stroke-width="0.8" />
<text x="378.90" y="207.25" font-size="4.2" font-weight="bold" text-anchor="end" fill="#000"  stroke="#000" stroke-width="0.15">100</text>
<text x="369.30" y="254.50" font-size="5.6" font-weight="bold" text-anchor="middle" fill="#000" transform="rotate(-90 369.30 254.50)" >VNTR</text>
<line x1="415.00" y1="302.40" x2="415.00" y2="303.70" stroke="#000" stroke-width="0.8" />
<line x1="481.60" y1="302.40" x2="481.60" y2="303.70" stroke="#000" stroke-width="0.8" />
<text x="415.20" y="309.40" font-size="5.2" font-weight="bold" text-anchor="middle" fill="#000" >Control Animals n=5</text>
<text x="482.00" y="309.40" font-size="5.15" font-weight="bold" text-anchor="middle" fill="#000" >AAT treated animal n=6</text>
<line x1="415.25" y1="206.23" x2="415.25" y2="207.49" stroke="#222" stroke-width="0.9" />
<line x1="415.25" y1="214.26" x2="415.25" y2="216.38" stroke="#222" stroke-width="0.9" />
<line x1="406.50" y1="206.23" x2="423.00" y2="206.23" stroke="#222" stroke-width="0.9" />
<line x1="406.50" y1="216.38" x2="423.00" y2="216.38" stroke="#222" stroke-width="0.9" />
<rect x="392.50" y="207.49" width="45.50" height="6.77" rx="0.8" fill="#fff" stroke="#222" stroke-width="1.1"/>
<line x1="392.50" y1="212.81" x2="438.00" y2="212.81" stroke="#222" stroke-width="1.0" />
<line x1="481.95" y1="206.23" x2="481.95" y2="208.84" stroke="#222" stroke-width="0.9" />
<line x1="481.95" y1="220.83" x2="481.95" y2="224.31" stroke="#222" stroke-width="0.9" />
<line x1="473.90" y1="206.23" x2="489.60" y2="206.23" stroke="#222" stroke-width="0.9" />
<line x1="473.90" y1="224.31" x2="489.60" y2="224.31" stroke="#222" stroke-width="0.9" />
<rect x="459.50" y="208.84" width="44.90" height="11.98" rx="0.8" fill="#fff" stroke="#222" stroke-width="1.1"/>
<line x1="459.50" y1="217.54" x2="504.40" y2="217.54" stroke="#222" stroke-width="1.0" />
</svg>
</body></html>
